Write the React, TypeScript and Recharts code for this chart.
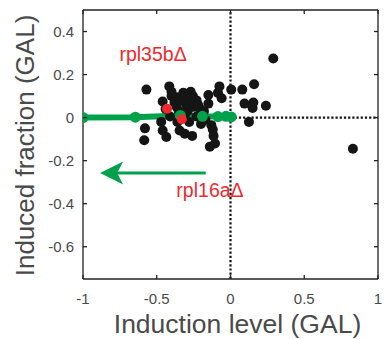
import React from 'react';
import {
  ComposedChart,
  Scatter,
  Line,
  XAxis,
  YAxis,
  ReferenceLine,
  ReferenceDot,
  Label,
} from 'recharts';

// mutant strains (black dots)
const mutantX = [
  0.29, 0.83, -0.57, -0.415, -0.46, -0.4, -0.365, -0.32, -0.27, -0.255,
  -0.23, -0.3, -0.365, -0.21, -0.15, -0.075, -0.085, -0.06, 0.005, 0.08,
  0.16, 0.095, 0.155, 0.15, 0.24, 0.125, -0.47, -0.46, -0.58, -0.585,
  -0.435, -0.345, -0.31, -0.26, -0.2, -0.13, -0.12, -0.115, -0.105, -0.14,
  -0.41, -0.23, -0.28, -0.35, -0.29, -0.25, -0.33, -0.38, -0.44, -0.27,
  -0.22, -0.18, -0.15, -0.3, -0.4, -0.36, -0.31, -0.17,
];
const mutantY = [
  0.275, -0.145, 0.13, 0.145, 0.075, 0.1, 0.095, 0.115, 0.12, 0.1,
  0.08, 0.06, 0.05, 0.045, 0.105, 0.145, 0.115, 0.09, 0.13, 0.13,
  0.155, 0.065, 0.07, 0.045, 0.055, -0.02, -0.02, -0.06, -0.05, -0.105,
  -0.09, -0.06, -0.075, -0.085, -0.03, -0.035, -0.055, -0.085, -0.12, -0.135,
  0.005, 0.005, -0.02, 0.03, 0.03, 0.05, 0.08, 0.07, 0.04, 0.09,
  0.06, 0.03, 0.065, 0.1, 0.12, -0.02, 0.0, -0.01,
];

// highlighted strains (red)
const highlightX = [-0.43, -0.33];
const highlightY = [0.041, -0.008];

// green trajectory
const pathX = [-1, -0.645, -0.34, -0.19, -0.085, -0.03, 0.005];
const pathY = [0, 0.002, 0.01, 0.006, 0.005, 0.006, 0.003];

const xDomain = [-1, 1];
const yDomain = [-0.75, 0.5];
const xTicks = [-1, -0.5, 0, 0.5, 1];
const yTicks = [-0.6, -0.4, -0.2, 0, 0.2, 0.4];

const mutants = mutantX.map((x, i) => ({ x, y: mutantY[i] }));
const highlights = highlightX.map((x, i) => ({ x, y: highlightY[i] }));
const path = pathX.map((x, i) => ({ x, y: pathY[i] }));

const FONT = '"Liberation Sans", Arial, Helvetica, sans-serif';
const TEXT = '#4a4a4a';
const FRAME = '#222';
const GREEN = '#00a14b';
const RED = '#ee2a2e';
const TICK_LEN = 4;

const blackDot = (p: any) => <circle cx={p.cx} cy={p.cy} r={5} fill="#151515" />;
const redDot = (p: any) => <circle cx={p.cx} cy={p.cy} r={5} fill={RED} />;

const note = (txt: string) => (p: any) => (
  <text x={p.cx} y={p.cy} fill={RED} fontSize={19.5} fontFamily={FONT}>
    {txt}
  </text>
);

const arrowHead = (p: any) => (
  <path
    d={`M${p.cx},${p.cy} L${p.cx + 23},${p.cy - 11.5} L${p.cx + 17},${p.cy} L${p.cx + 23},${p.cy + 11.5} Z`}
    fill={GREEN}
  />
);

// inward tick marks, pointing into the box (dx, dy = direction)
const tickMark = (dx: number, dy: number) => (p: any) => (
  <line
    x1={p.cx}
    y1={p.cy}
    x2={p.cx + dx * TICK_LEN}
    y2={p.cy + dy * TICK_LEN}
    stroke={FRAME}
    strokeWidth={1.3}
  />
);

const bottomTick = (p: any) => (
  <text x={p.x} y={p.y + 11} textAnchor="middle" fill={TEXT} fontSize={15} fontFamily={FONT}>
    {String(p.payload.value)}
  </text>
);
const leftTick = (p: any) => (
  <text x={p.x} y={p.y + 5.5} textAnchor="end" fill={TEXT} fontSize={15} fontFamily={FONT}>
    {String(p.payload.value)}
  </text>
);

const xLabel = (p: any) => {
  const vb = p.viewBox;
  return (
    <text x={vb.x + vb.width / 2 + 7} y={333} textAnchor="middle" fill={TEXT} fontSize={26.5} fontFamily={FONT}>
      Induction level (GAL)
    </text>
  );
};

const yLabel = (p: any) => {
  const vb = p.viewBox;
  const cy = vb.y + vb.height / 2 + 1;
  return (
    <text
      x={34}
      y={cy}
      transform={`rotate(-90, 34, ${cy})`}
      textAnchor="middle"
      fill={TEXT}
      fontSize={26}
      fontFamily={FONT}
    >
      Induced fraction (GAL)
    </text>
  );
};

export default function App() {
  return (
    <div style={{ position: 'absolute', left: 0, top: 0, background: '#fff' }}>
      <ComposedChart width={385} height={339} margin={{ top: 10, right: 7, bottom: 0, left: 0 }}>
        <XAxis
          type="number"
          dataKey="x"
          domain={xDomain}
          ticks={xTicks}
          interval={0}
          allowDataOverflow
          height={60}
          tickLine={false}
          tickSize={0}
          tickMargin={14}
          axisLine={false}
          tick={bottomTick}
        >
          <Label content={xLabel} />
        </XAxis>
        <YAxis
          type="number"
          dataKey="y"
          domain={yDomain}
          ticks={yTicks}
          interval={0}
          allowDataOverflow
          width={83}
          tickLine={false}
          tickSize={0}
          tickMargin={9}
          axisLine={false}
          tick={leftTick}
        >
          <Label content={yLabel} />
        </YAxis>
        <ReferenceLine x={0} stroke="#111" strokeWidth={2.2} strokeDasharray="2.2 2" />
        <ReferenceLine
          segment={[{ x: 0, y: 0 }, { x: 1, y: 0 }]}
          stroke="#111"
          strokeWidth={2.2}
          strokeDasharray="2.2 2"
        />
        <Scatter data={mutants} dataKey="y" shape={blackDot} isAnimationActive={false} />
        <Line
          data={path}
          dataKey="y"
          type="linear"
          stroke={GREEN}
          strokeWidth={6}
          dot={{ r: 5.5, fill: GREEN, stroke: 'none' }}
          activeDot={false}
          isAnimationActive={false}
        />
        <Scatter data={highlights} dataKey="y" shape={redDot} isAnimationActive={false} />
        <ReferenceLine
          segment={[{ x: -0.168, y: -0.258 }, { x: -0.8, y: -0.258 }]}
          stroke={GREEN}
          strokeWidth={3}
        />
        <ReferenceDot x={-0.884} y={-0.258} shape={arrowHead} ifOverflow="visible" />
        <ReferenceDot x={-0.753} y={0.264} shape={note('rpl35bΔ')} ifOverflow="visible" />
        <ReferenceDot x={-0.367} y={-0.37} shape={note('rpl16aΔ')} ifOverflow="visible" />
        {/* box frame: four explicit sides */}
        <ReferenceLine y={yDomain[0]} stroke={FRAME} strokeWidth={1.3} ifOverflow="visible" />
        <ReferenceLine y={yDomain[1]} stroke={FRAME} strokeWidth={1.3} ifOverflow="visible" />
        <ReferenceLine x={xDomain[0]} stroke={FRAME} strokeWidth={1.3} ifOverflow="visible" />
        <ReferenceLine x={xDomain[1]} stroke={FRAME} strokeWidth={1.3} ifOverflow="visible" />
        {xTicks.map((t) => (
          <ReferenceDot key={`b${t}`} x={t} y={yDomain[0]} shape={tickMark(0, -1)} ifOverflow="visible" />
        ))}
        {xTicks.map((t) => (
          <ReferenceDot key={`t${t}`} x={t} y={yDomain[1]} shape={tickMark(0, 1)} ifOverflow="visible" />
        ))}
        {yTicks.map((t) => (
          <ReferenceDot key={`l${t}`} x={xDomain[0]} y={t} shape={tickMark(1, 0)} ifOverflow="visible" />
        ))}
        {yTicks.map((t) => (
          <ReferenceDot key={`r${t}`} x={xDomain[1]} y={t} shape={tickMark(-1, 0)} ifOverflow="visible" />
        ))}
      </ComposedChart>
    </div>
  );
}
